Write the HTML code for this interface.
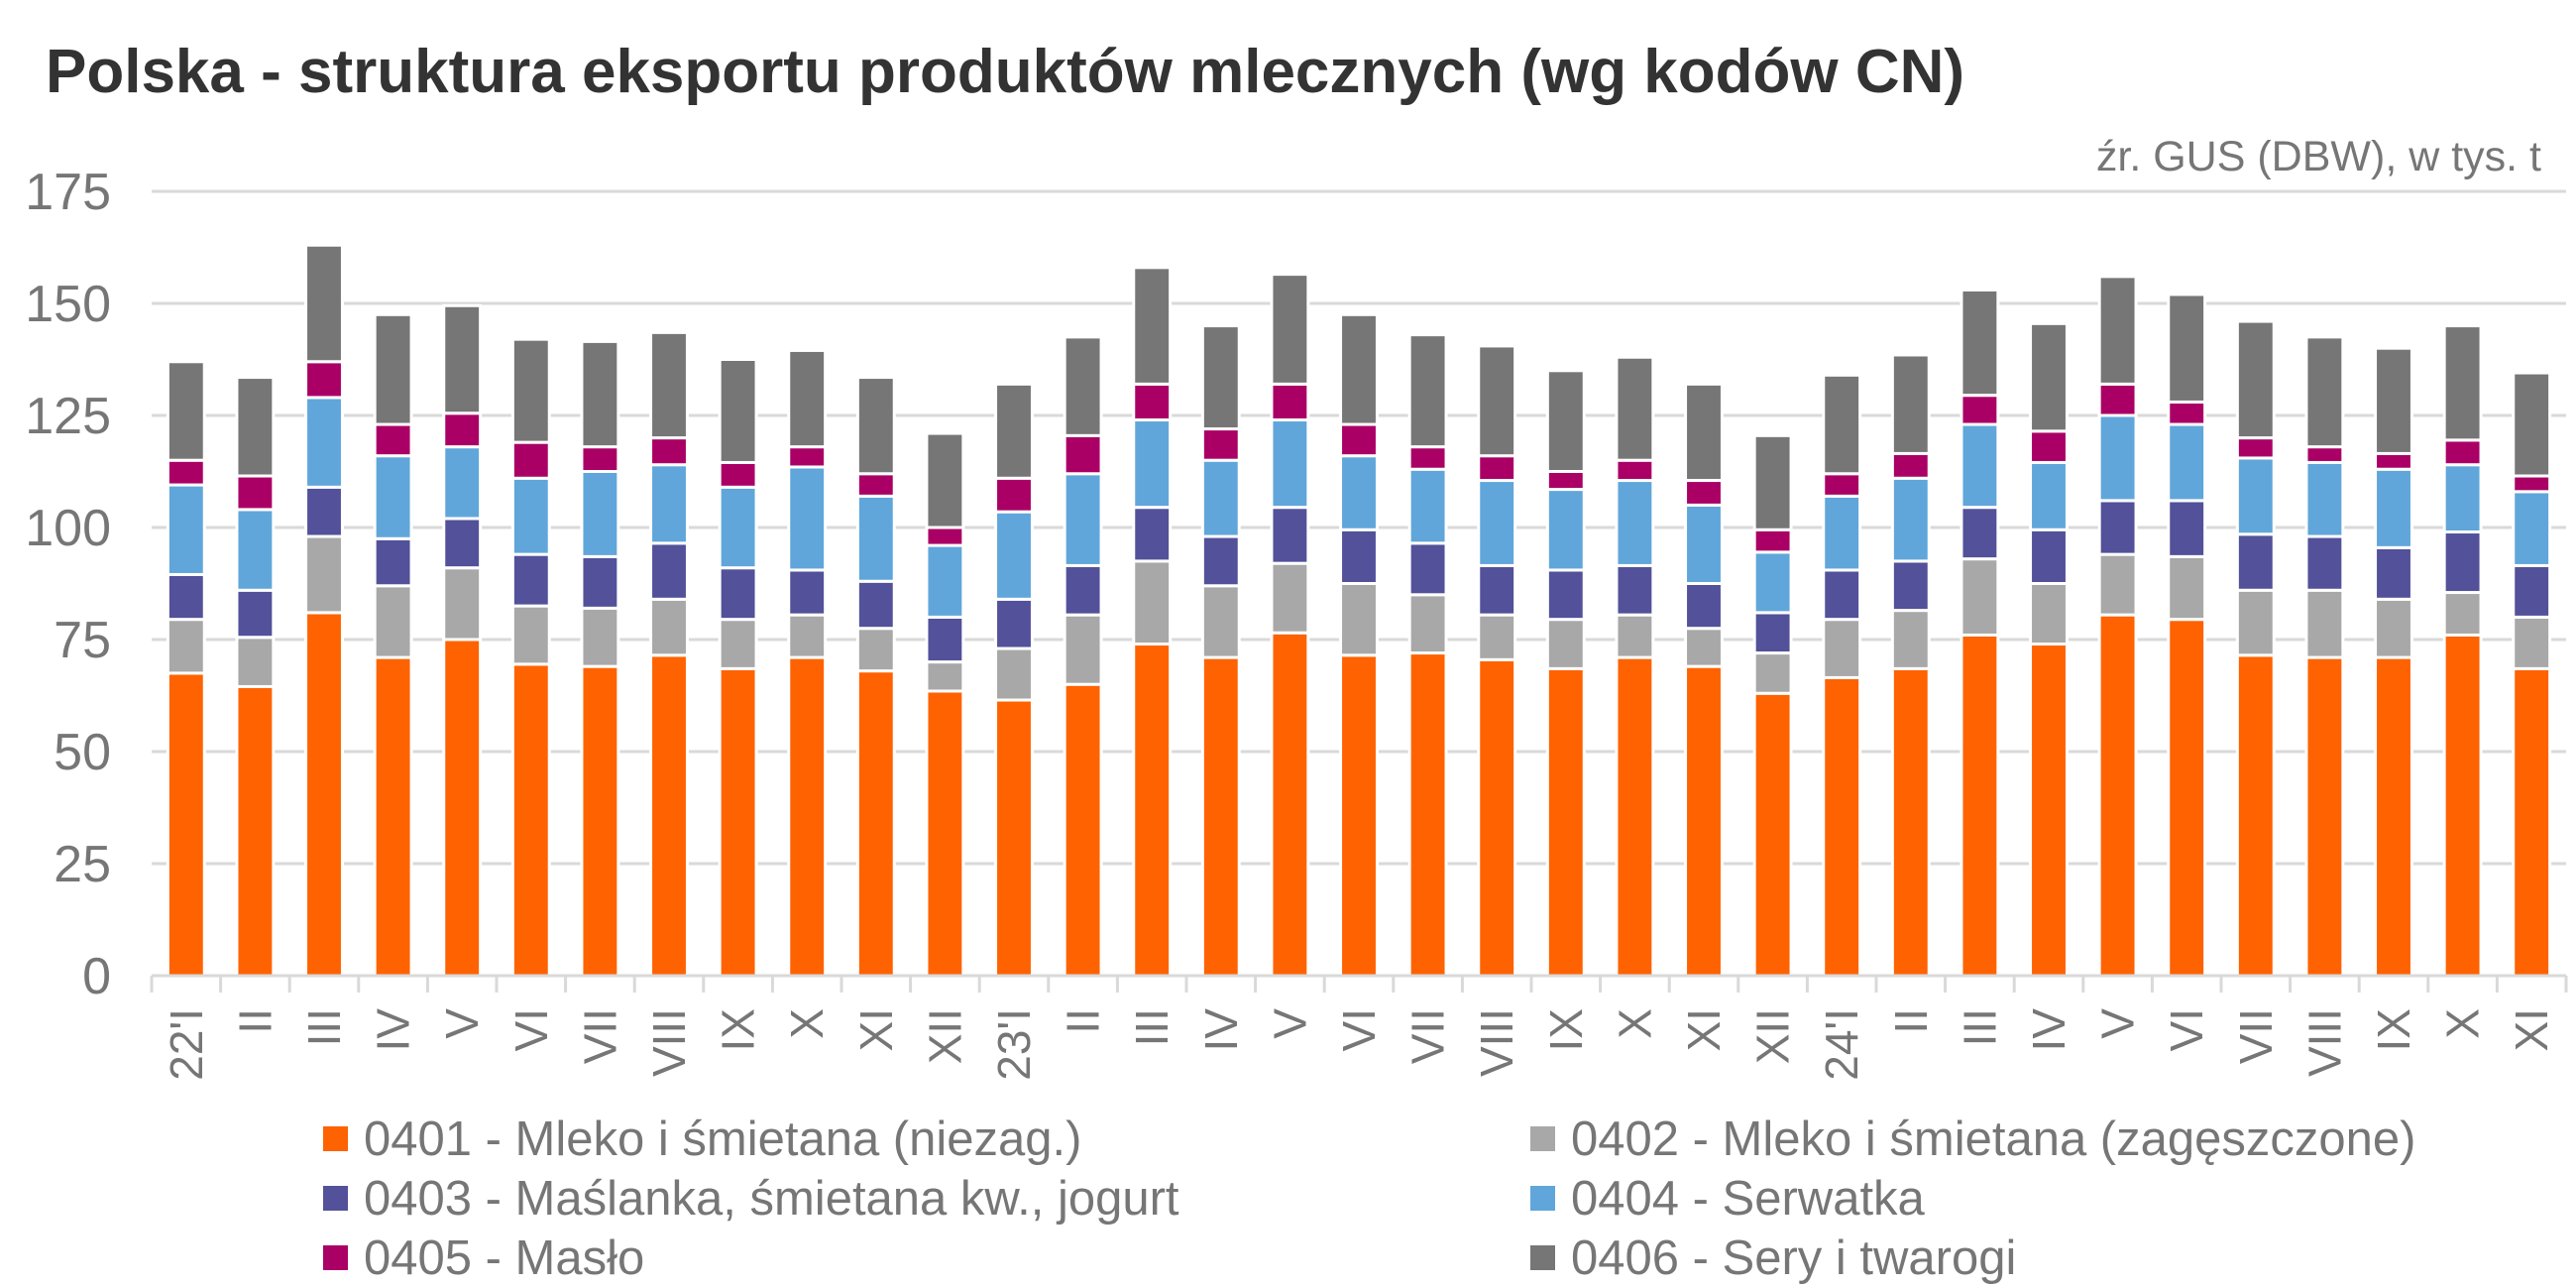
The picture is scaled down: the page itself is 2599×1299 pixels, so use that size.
<!DOCTYPE html>
<html><head><meta charset="utf-8"><style>
body{margin:0;background:#fff;}
svg{display:block;font-family:"Liberation Sans",sans-serif;}
</style></head><body>
<svg id="chart" width="2599" height="1299" viewBox="0 0 2599 1299">
<text x="46" y="93" font-size="62" font-weight="bold" fill="#333">Polska - struktura eksportu produktów mlecznych (wg kodów CN)</text>
<text x="2564" y="172" text-anchor="end" font-size="43" fill="#767676">źr. GUS (DBW), w tys. t</text>
<g id="grid"></g><g id="bars"></g><g id="axis"></g><g id="legend"></g>
</svg>
<script>
const categories=["22'I","II","III","IV","V","VI","VII","VIII","IX","X","XI","XII","23'I","II","III","IV","V","VI","VII","VIII","IX","X","XI","XII","24'I","II","III","IV","V","VI","VII","VIII","IX","X","XI"];
const s0401=[67.5,64.5,81,71,75,69.5,69,71.5,68.5,71,68,63.5,61.5,65,74,71,76.5,71.5,72,70.5,68.5,71,69,63,66.5,68.5,76,74,80.5,79.5,71.5,71,71,76,68.5];
const s0402=[12,11,17,16,16,13,13,12.5,11,9.5,9.5,6.5,11.5,15.5,18.5,16,15.5,16,13,10,11,9.5,8.5,9,13,13,17,13.5,13.5,14,14.5,15,13,9.5,11.5];
const s0403=[10,10.5,11,10.5,11,11.5,11.5,12.5,11.5,10,10.5,10,11,11,12,11,12.5,12,11.5,11,11,11,10,9,11,11,11.5,12,12,12.5,12.5,12,11.5,13.5,11.5];
const s0404=[20,18,20,18.5,16,17,19,17.5,18,23,19,16,19.5,20.5,19.5,17,19.5,16.5,16.5,19,18,19,17.5,13.5,16.5,18.5,18.5,15,19,17,17,16.5,17.5,15,16.5];
const s0405=[5.5,7.5,8,7,7.5,8,5.5,6,5.5,4.5,5,4,7.5,8.5,8,7,8,7,5,5.5,4,4.5,5.5,5,5,5.5,6.5,7,7,5,4.5,3.5,3.5,5.5,3.5];
const s0406=[22,22,26,24.5,24,23,23.5,23.5,23,21.5,21.5,21,21,22,26,23,24.5,24.5,25,24.5,22.5,23,21.5,21,22,22,23.5,24,24,24,26,24.5,23.5,25.5,23];
const yTicks=[0,25,50,75,100,125,150,175];
const seriesNames=["0401 - Mleko i śmietana (niezag.)","0402 - Mleko i śmietana (zagęszczone)","0403 - Maślanka, śmietana kw., jogurt","0404 - Serwatka","0405 - Masło","0406 - Sery i twarogi"];
const NS="http://www.w3.org/2000/svg";
const series=[s0401,s0402,s0403,s0404,s0405,s0406];
const colors=["#ff6200","#a8a8a8","#525199","#60a6da","#aa0066","#767676"];
const X0=153,X1=2589,Y0=984,Y1=193,VMAX=175;
const step=(X1-X0)/categories.length,bw=step*0.53;
function y(v){return Y0-(v/VMAX)*(Y0-Y1);}
function xc(i){return X0+step*(i+0.5);}
function mk(tag,attrs,parent){const e=document.createElementNS(NS,tag);for(const k in attrs)e.setAttribute(k,attrs[k]);parent.appendChild(e);return e;}
const grid=document.getElementById('grid'),bars=document.getElementById('bars'),axis=document.getElementById('axis'),legend=document.getElementById('legend');
yTicks.forEach(t=>{
  if(t>0){const l=mk('line',{x1:X0,x2:X1,y1:y(t),y2:y(t),stroke:'#d9d9d9','stroke-width':3},grid);
  
  }
  const tx=mk('text',{x:112,y:y(t)+18,'text-anchor':'end','font-size':52,fill:'#767676'},grid);
  tx.textContent=t;
  
  
});
categories.forEach((c,i)=>{
  let cum=0;
  series.forEach((s,k)=>{
    const v=s[i];
    const r=mk('rect',{x:xc(i)-bw/2,y:y(cum+v),width:bw,height:y(cum)-y(cum+v),fill:colors[k],stroke:'#fff','stroke-width':3},bars);
    
    
    cum+=v;
  });
  const tk=mk('line',{x1:X0+step*i,x2:X0+step*i,y1:Y0,y2:Y0+17,stroke:'#d9d9d9','stroke-width':3},axis);
  
  
  const lb=mk('text',{x:0,y:0,'text-anchor':'end','font-size':46,fill:'#767676',transform:'translate('+(xc(i)+16)+',1017) rotate(-90)'},axis);
  lb.textContent=c;
  
  
});
const endTk=mk('line',{x1:X1,x2:X1,y1:Y0,y2:Y0+17,stroke:'#d9d9d9','stroke-width':3},axis);


const base=mk('line',{x1:X0,x2:X1,y1:Y0,y2:Y0,stroke:'#d9d9d9','stroke-width':3},axis);


seriesNames.forEach((n,k)=>{
  const col=k%2,row=Math.floor(k/2);
  const sx=col?1544:326,cy=1148+row*60;
  const g=mk('g',{},legend);
  
  
  mk('rect',{x:sx,y:cy-12,width:25,height:25,fill:colors[k]},g);
  const t=mk('text',{x:sx+41,y:cy+17,'font-size':49,fill:'#767676'},g);
  t.textContent=n;
});
</script>
</body></html>
